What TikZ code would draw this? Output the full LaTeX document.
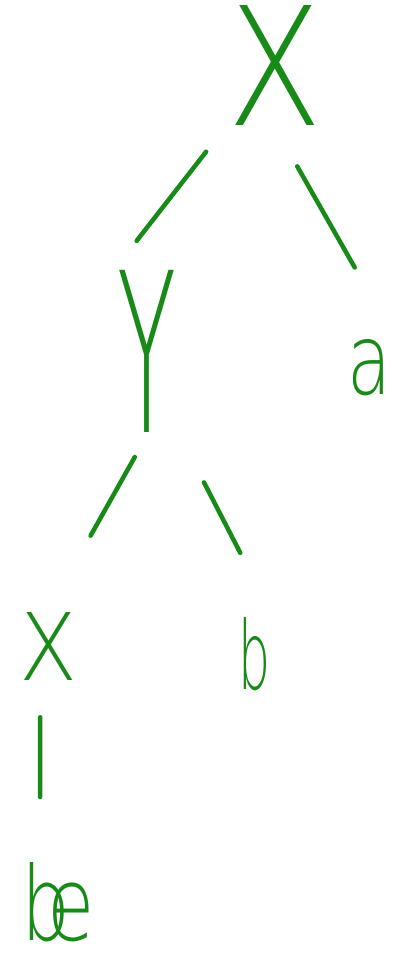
\documentclass[tikz,border=0pt]{standalone}
\usepackage{fontspec}
\IfFontExistsTF{DejaVu Sans ExtraLight}
  {\newfontfamily\handfont{DejaVu Sans ExtraLight}}
  {\newfontfamily\handfont{DejaVu Sans}}
\usetikzlibrary{calc}
\definecolor{ink}{HTML}{178A17}
\tikzset{
  every picture/.style={line width=4.5pt, line cap=round},
  letter/.style={text=ink, inner sep=0pt, font=\handfont},
  branch/.style={draw=ink, line width=4.5pt, line cap=round},
}
\newcommand{\glyph}[3]{\resizebox{#1pt}{#2pt}{#3}}% width, height, letters

\begin{document}
\begin{tikzpicture}[x=1pt, y=-1pt]
  \useasboundingbox (0,0) rectangle (410,955);
  % letters
  \node[letter] (x1) at (275,65)    {\glyph{95}{120}{X}};
  \node[letter] (y)  at (147.5,351) {\glyph{59}{162}{Y}};
  \node[letter] (a)  at (370,367.5) {\glyph{44}{55}{a}};
  \node[letter] (x2) at (49,646)    {\glyph{58}{68}{X}};
  \node[letter] (b2) at (254,654)   {\glyph{32}{72}{b}};
  \node[letter] (be) at (58.5,902)  {\glyph{73}{78}{b\kern-.3em e}};
  % branches
  \draw[branch, shorten <=31pt, shorten >=34pt] (x1.south west) -- (y.north west);
  \draw[branch, shorten <=45pt, shorten >=80pt] (x1.south) -- (a.north east);
  \draw[branch, shorten <=26pt, shorten >=85pt] (y.south) -- (x2.north);
  \draw[branch, shorten <=54pt, shorten >=70pt] (y.south east) -- (b2.north east);
  \draw[branch, shorten <=35pt, shorten >=63pt] ($(x2.south west)!.72!(x2.south)$) -- ($(be.north west)!.52!(be.north)$);
\end{tikzpicture}
\end{document}
